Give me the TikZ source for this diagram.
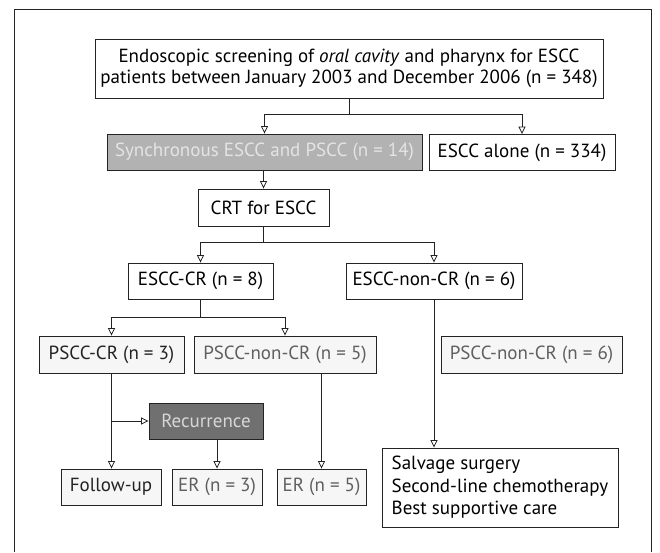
\documentclass[tikz,border=0pt]{standalone}
\usepackage{fontspec}
\setmainfont{PT Sans}
\usetikzlibrary{arrows.meta}
\definecolor{linecolor}{RGB}{35,35,35}
\definecolor{syncbg}{RGB}{178,178,178}
\definecolor{synctext}{RGB}{228,228,228}
\definecolor{recbg}{RGB}{112,112,112}
\definecolor{rectext}{RGB}{215,215,215}
\definecolor{psccbg}{RGB}{246,246,246}
\definecolor{pscctext}{RGB}{95,95,95}
\tikzset{
  flowbox/.style={draw=linecolor,line width=0.9pt,fill=white,inner sep=0pt,align=center,minimum height=36pt},
  psccbox/.style={flowbox,fill=psccbg,text=pscctext,minimum height=37pt},
  flowline/.style={draw=linecolor,line width=0.8pt},
  flowarrow/.style={-{Triangle[open,length=7.5pt,width=7pt]},draw=linecolor,line width=0.8pt}
}

\begin{document}
\begin{tikzpicture}[x=1pt,y=-1pt,font=\fontsize{19}{21}\selectfont]
  \useasboundingbox (0,0) rectangle (660,552);

  % --- Outer frame (runs off the bottom) ---
  \draw[flowline] (14,552) -- (14,9) -- (651,9) -- (651,552);

  % --- Screening and first split ---
  \node[flowbox,minimum width=508pt,minimum height=59pt] (screen) at (349,68.5)
    {Endoscopic screening of \textit{oral cavity} and pharynx for ESCC\\
     patients between January 2003 and December 2006 (n = 348)};

  \node[
    flowbox,
    minimum width=315pt,
    fill=syncbg,
    text=synctext
  ] (sync) at (264.5,152) {Synchronous ESCC and PSCC (n = 14)};

  \node[flowbox,minimum width=186pt] (alone) at (522,152.5) {ESCC alone (n = 334)};

  \node[flowbox,minimum width=131pt,minimum height=37pt] (crt) at (263.5,207.5) {CRT for ESCC};

  % --- ESCC response ---
  \node[flowbox,minimum width=145pt] (escr) at (200.5,281) {ESCC-CR (n = 8)};
  \node[flowbox,minimum width=176pt] (esncr) at (434,281) {ESCC-non-CR (n = 6)};

  % --- PSCC response ---
  \node[psccbox,minimum width=145pt,text=linecolor] (pcr) at (111.5,354.5) {PSCC-CR (n = 3)};
  \node[psccbox,minimum width=182pt] (pncrA) at (285,354.5) {PSCC-non-CR (n = 5)};
  \node[psccbox,minimum width=181pt] (pncrB) at (531.5,354.5) {PSCC-non-CR (n = 6)};

  \node[
    flowbox,
    minimum width=114pt,
    fill=recbg,
    text=rectext
  ] (rec) at (206,421) {Recurrence};

  % --- Outcomes ---
  \node[psccbox,minimum width=100pt,minimum height=36pt,text=linecolor] (fu) at (111,487) {Follow-up};
  \node[psccbox,minimum width=90pt,minimum height=36pt] (erA) at (217,487) {ER (n = 3)};
  \node[psccbox,minimum width=89pt,minimum height=36pt] (erB) at (321.5,487) {ER (n = 5)};

  \node[
    flowbox,
    minimum width=236pt,
    minimum height=79pt,
    align=left,
    font=\fontsize{19}{22.5}\selectfont
  ] (salv) at (500,487.5)
    {Salvage surgery\\Second-line chemotherapy\\Best supportive care};

  % --- Connectors ---
  \draw[flowarrow] (screen.south) -- ++(0,16) -| (sync.north);
  \draw[flowarrow] (screen.south) -- ++(0,16) -| (alone.north);
  \draw[flowarrow] (crt.north |- sync.south) -- (crt.north);

  \draw[flowarrow] (crt.south) -- ++(0,16) -| (escr.north);
  \draw[flowarrow] (crt.south) -- ++(0,16) -| (esncr.north);

  \draw[flowarrow] (escr.south) -- ++(0,18) -| (pcr.north);
  \draw[flowarrow] (escr.south) -- ++(0,18) -| (pncrA.north);

  \draw[flowarrow] (pcr.south) -- (pcr.south |- fu.north);
  \draw[flowarrow] (pcr.south |- rec.west) -- (rec.west);
  \draw[flowarrow] (erA.north |- rec.south) -- (erA.north);
  \draw[flowarrow] (erB.north |- pncrA.south) -- (erB.north);
  \draw[flowarrow] (esncr.south) -- (esncr.south |- salv.north);

\end{tikzpicture}
\end{document}
